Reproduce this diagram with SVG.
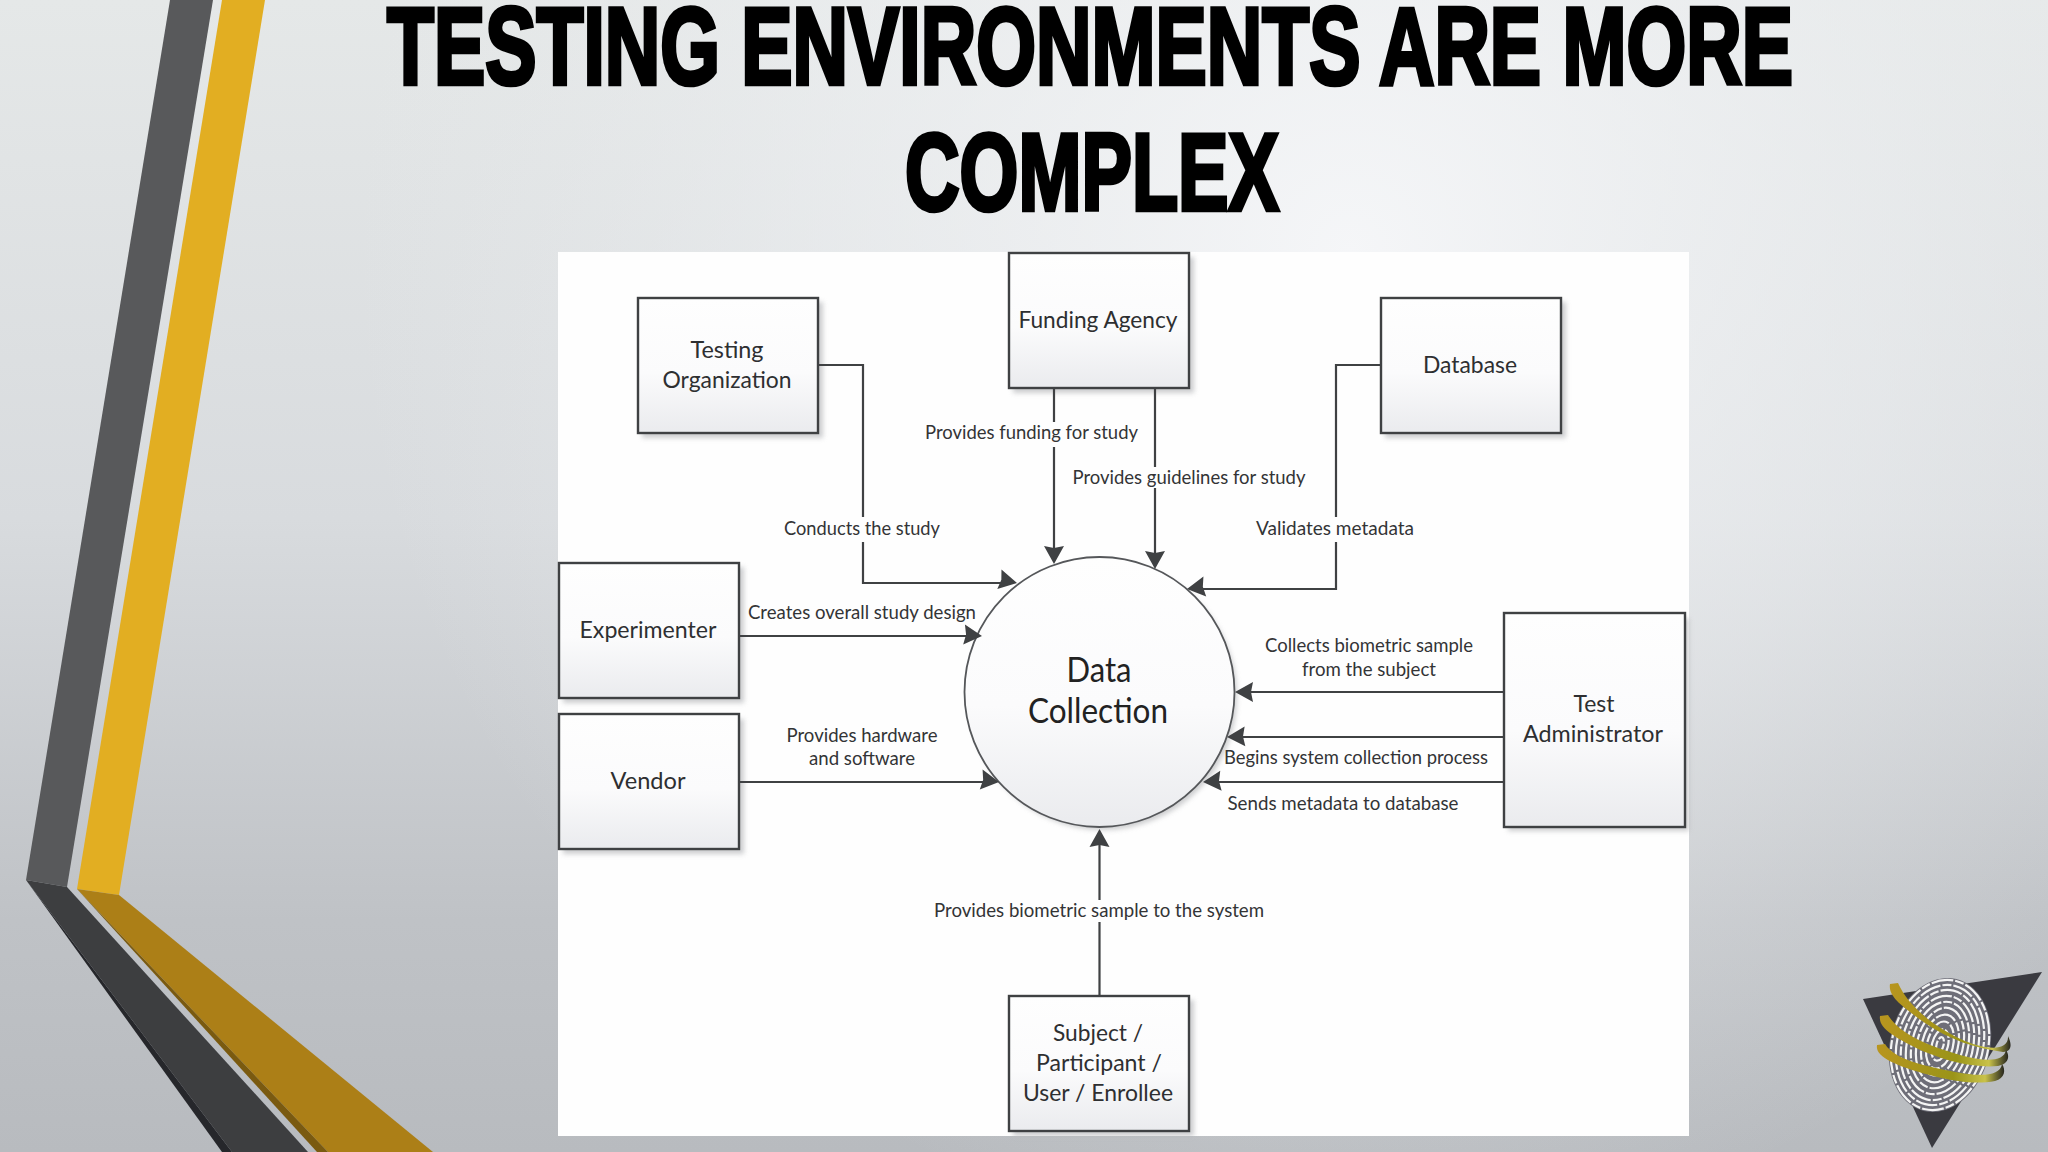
<svg xmlns="http://www.w3.org/2000/svg" width="2048" height="1152" viewBox="0 0 2048 1152">
<style>
.box{fill:url(#nodeFill);stroke:#3f4143;stroke-width:2.4}
.circ{fill:url(#nodeFill);stroke:#55575a;stroke-width:1.8}
.sh{fill:#b8b9bc;filter:url(#blur);opacity:.7}
.conn{fill:none;stroke:#3f4143;stroke-width:2.2}
.nl{font-family:"Lato","Carlito","Liberation Sans",sans-serif;font-size:23px;fill:#2e2f31;text-anchor:middle}
.cl{font-family:"Lato","Carlito","Liberation Sans",sans-serif;font-size:20px;fill:#333436;text-anchor:middle}
.big{font-family:"Lato","Carlito","Liberation Sans",sans-serif;font-size:34px;fill:#222;text-anchor:middle}
.title{font-family:"Liberation Sans Narrow","Liberation Sans",sans-serif;font-weight:700;font-size:110px;fill:#000;stroke:#000;stroke-width:4.500;stroke-linejoin:miter;text-anchor:middle}
.ar{fill:#3f4143}
.ridge{fill:none;stroke:#f4f4f4;stroke-width:2.2;stroke-dasharray:22 2 9 2}
</style>
<defs>
<linearGradient id="bgL" x1="0" y1="0" x2="0" y2="1"><stop offset="0" stop-color="#e5e8e8"/><stop offset=".45" stop-color="#d8dbde"/><stop offset=".8" stop-color="#bfc2c6"/><stop offset="1" stop-color="#b8bbbf"/></linearGradient>
<radialGradient id="bgR" gradientUnits="userSpaceOnUse" cx="1350" cy="250" r="1000"><stop offset="0" stop-color="#f6f7f9" stop-opacity=".95"/><stop offset=".55" stop-color="#eef0f2" stop-opacity=".5"/><stop offset="1" stop-color="#e8eaec" stop-opacity="0"/></radialGradient>
<linearGradient id="nodeFill" x1="0" y1="0" x2="0" y2="1"><stop offset="0" stop-color="#fefefe"/><stop offset=".55" stop-color="#fbfbfc"/><stop offset="1" stop-color="#eaebee"/></linearGradient>
<linearGradient id="ringG" x1="0" y1="0" x2="1" y2="0"><stop offset="0" stop-color="#b8951f"/><stop offset=".6" stop-color="#9a9418"/><stop offset=".85" stop-color="#c9c24a"/><stop offset="1" stop-color="#26261e"/></linearGradient>
<filter id="blur" x="-10%" y="-10%" width="120%" height="120%"><feGaussianBlur stdDeviation="2.500"/></filter>
<path id="ah" class="ar" d="M0 0L-18-10L-16 0L-18 10Z"/>
</defs>
<rect width="2048" height="1152" fill="url(#bgL)"/>
<rect width="2048" height="1152" fill="url(#bgR)"/>

<polygon points="170,0 213,0 67,887 26,880" fill="#58595b"/>
<polygon points="222,0 265,0 119,895 77,889" fill="#e2ae22"/>
<polygon points="26,880 67,887 308,1152 232,1152" fill="#3d3e40"/>
<polygon points="26,880 232,1152 222,1152" fill="#26272b"/>
<polygon points="77,889 119,895 433,1152 328,1152" fill="#ac7f17"/>
<polygon points="77,889 328,1152 317,1152" fill="#7a5a10"/>

<text class="title" x="1090" y="84" textLength="1406" lengthAdjust="spacingAndGlyphs">TESTING ENVIRONMENTS ARE MORE</text>
<text class="title" x="1092" y="210" textLength="374" lengthAdjust="spacingAndGlyphs">COMPLEX</text>

<rect x="558" y="252" width="1131" height="884" fill="#fefefe"/>

<g id="logo">
<polygon points="2042,972 1863,999 1932,1148" fill="#3a3a40"/>
<g transform="translate(1940 1045) rotate(14)">
<ellipse rx="50" ry="68" fill="#6e6e78"/>
<ellipse class="ridge" rx="48" ry="66"/>
<ellipse class="ridge" rx="43" ry="61"/>
<ellipse class="ridge" rx="38" ry="56"/>
<ellipse class="ridge" rx="33" ry="50"/>
<ellipse class="ridge" rx="28" ry="44"/>
<ellipse class="ridge" rx="23" ry="38"/>
<ellipse class="ridge" rx="18" ry="31"/>
<ellipse class="ridge" rx="13" ry="24"/>
<ellipse class="ridge" rx="8" ry="16"/>
<ellipse class="ridge" rx="3.500" ry="8"/>
</g>
<path d="M1890 984C1888 996 1900 1005 1925 1023C1950 1040 1975 1048 2003 1052C2012 1052 2012 1044 2008 1036C2009 1050 1990 1051 1965 1041C1935 1028 1908 1006 1898 983Z" fill="url(#ringG)"/>
<path d="M1880 1016C1878 1028 1895 1038 1925 1052C1950 1062 1975 1068 1998 1066C2009 1064 2010 1056 2006 1050C2004 1062 1985 1062 1960 1055C1930 1046 1900 1035 1888 1015Z" fill="url(#ringG)"/>
<path d="M1877 1045C1875 1056 1892 1064 1922 1073C1950 1081 1975 1085 1995 1081C2005 1078 2006 1070 2002 1064C2000 1076 1982 1077 1955 1072C1925 1066 1895 1060 1885 1044Z" fill="url(#ringG)"/>
</g>

<g id="testing-organization">
<rect class="sh" x="642" y="302" width="181" height="136"/>
<rect class="box" x="638" y="298" width="180" height="135"/>
<text class="nl" x="727" y="358" textLength="73" lengthAdjust="spacingAndGlyphs">Testing</text>
<text class="nl" x="727" y="388" textLength="129" lengthAdjust="spacingAndGlyphs">Organization</text>
</g>
<g id="funding-agency">
<rect class="sh" x="1013" y="257" width="181" height="136"/>
<rect class="box" x="1009" y="253" width="180" height="135"/>
<text class="nl" x="1098" y="328" textLength="159" lengthAdjust="spacingAndGlyphs">Funding Agency</text>
</g>
<g id="database">
<rect class="sh" x="1385" y="302" width="181" height="136"/>
<rect class="box" x="1381" y="298" width="180" height="135"/>
<text class="nl" x="1470" y="373" textLength="94" lengthAdjust="spacingAndGlyphs">Database</text>
</g>
<g id="experimenter">
<rect class="sh" x="563" y="567" width="181" height="136"/>
<rect class="box" x="559" y="563" width="180" height="135"/>
<text class="nl" x="648" y="638" textLength="137" lengthAdjust="spacingAndGlyphs">Experimenter</text>
</g>
<g id="vendor">
<rect class="sh" x="563" y="719" width="181" height="135"/>
<rect class="box" x="559" y="714" width="180" height="135"/>
<text class="nl" x="648" y="789" textLength="75" lengthAdjust="spacingAndGlyphs">Vendor</text>
</g>
<g id="test-administrator">
<rect class="sh" x="1508" y="618" width="181" height="213"/>
<rect class="box" x="1504" y="613" width="181" height="214"/>
<text class="nl" x="1594" y="712" textLength="41" lengthAdjust="spacingAndGlyphs">Test</text>
<text class="nl" x="1593" y="742" textLength="140" lengthAdjust="spacingAndGlyphs">Administrator</text>
</g>
<g id="subject">
<rect class="sh" x="1013" y="1000" width="181" height="136"/>
<rect class="box" x="1009" y="996" width="180" height="135"/>
<text class="nl" x="1098" y="1041" textLength="90" lengthAdjust="spacingAndGlyphs">Subject /</text>
<text class="nl" x="1099" y="1071" textLength="126" lengthAdjust="spacingAndGlyphs">Participant /</text>
<text class="nl" x="1098" y="1101" textLength="150" lengthAdjust="spacingAndGlyphs">User / Enrollee</text>
</g>
<g id="data-collection">
<circle class="sh" cx="1103" cy="696" r="134"/>
<circle class="circ" cx="1099.500" cy="692" r="135"/>
<text class="big" x="1099" y="682" textLength="65" lengthAdjust="spacingAndGlyphs">Data</text>
<text class="big" x="1098" y="723" textLength="140" lengthAdjust="spacingAndGlyphs">Collection</text>
</g>

<g id="connectors">
<path class="conn" d="M818 365H863V517M863 542V583H1006"/>
<use href="#ah" transform="translate(1017 583) rotate(12)"/>
<path class="conn" d="M1054 388V422M1054 447V552"/>
<use href="#ah" transform="translate(1054 564) rotate(90)"/>
<path class="conn" d="M1155 388V467M1155 488V556"/>
<use href="#ah" transform="translate(1155 569) rotate(90)"/>
<path class="conn" d="M1381 365H1336V517M1336 542V589H1198"/>
<use href="#ah" transform="translate(1187 589) rotate(172)"/>
<path class="conn" d="M739 636H970"/>
<use href="#ah" transform="translate(982 636) rotate(5)"/>
<path class="conn" d="M739 782H988"/>
<use href="#ah" transform="translate(999 782) rotate(8)"/>
<path class="conn" d="M1504 692H1247"/>
<use href="#ah" transform="translate(1235 692) rotate(180)"/>
<path class="conn" d="M1504 737H1239"/>
<use href="#ah" transform="translate(1227 737) rotate(178)"/>
<path class="conn" d="M1504 782H1215"/>
<use href="#ah" transform="translate(1203 782) rotate(176)"/>
<path class="conn" d="M1099.500 996V922M1099.500 900V841"/>
<use href="#ah" transform="translate(1099.500 829) rotate(-90)"/>
<text class="cl" x="862" y="535" textLength="156" lengthAdjust="spacingAndGlyphs">Conducts the study</text>
<text class="cl" x="862" y="619" textLength="228" lengthAdjust="spacingAndGlyphs">Creates overall study design</text>
<text class="cl" x="1031.500" y="439" textLength="213" lengthAdjust="spacingAndGlyphs">Provides funding for study</text>
<text class="cl" x="1189" y="484" textLength="233" lengthAdjust="spacingAndGlyphs">Provides guidelines for study</text>
<text class="cl" x="1335" y="535" textLength="158" lengthAdjust="spacingAndGlyphs">Validates metadata</text>
<text class="cl" x="1369" y="652" textLength="208" lengthAdjust="spacingAndGlyphs">Collects biometric sample</text>
<text class="cl" x="1369" y="676" textLength="134" lengthAdjust="spacingAndGlyphs">from the subject</text>
<text class="cl" x="1356" y="764" textLength="264" lengthAdjust="spacingAndGlyphs">Begins system collection process</text>
<text class="cl" x="1343" y="810" textLength="231" lengthAdjust="spacingAndGlyphs">Sends metadata to database</text>
<text class="cl" x="862" y="742" textLength="151" lengthAdjust="spacingAndGlyphs">Provides hardware</text>
<text class="cl" x="862" y="765" textLength="106" lengthAdjust="spacingAndGlyphs">and software</text>
<text class="cl" x="1099" y="917" textLength="330" lengthAdjust="spacingAndGlyphs">Provides biometric sample to the system</text>
</g>
</svg>
